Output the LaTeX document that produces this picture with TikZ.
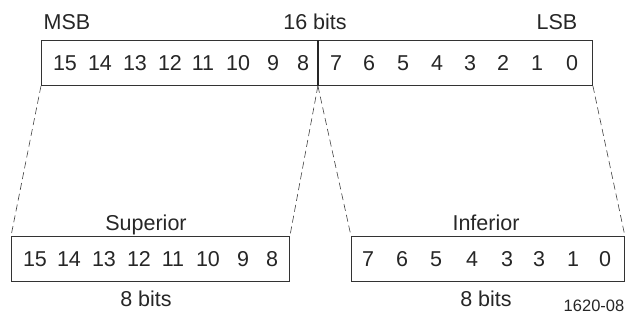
\documentclass[tikz,border=0pt]{standalone}
\usepackage{fontspec}
\setmainfont{Liberation Sans}
\begin{document}
\begin{tikzpicture}[x=1pt,y=-1pt,
  every node/.style={font=\fontsize{21.5}{24}\selectfont, text=black!85, inner sep=0pt},
  box/.style={draw=black!80, line width=0.9pt, minimum height=45pt, anchor=north west},
  dig/.style={anchor=base},
  lbl/.style={anchor=base},
  guide/.style={draw=black!75, line width=0.6pt, dash pattern=on 7pt off 4pt}]
\useasboundingbox (0,0) rectangle (626,324);
% top register
\node[box, minimum width=276pt] (topL) at (41,40) {};
\node[box, minimum width=275pt] (topR) at (317,40) {};
\draw[line width=2.4pt, draw=black!85] (topL.north east) -- (topL.south east);
% bottom registers
\node[box, minimum width=278pt] (sup) at (11,236) {};
\node[box, minimum width=273pt] (inf) at (351,236) {};
% labels
\node[lbl] (msb) at (67,29) {MSB};
\node[lbl] (bits16) at (315,29) {16 bits};
\node[lbl] (lsb) at (557,29) {LSB};
\node[lbl] (suplbl) at (146,230.5) {Superior};
\node[lbl] (inflbl) at (486,230.5) {Inferior};
\node[lbl] (sup8) at (146,306.5) {8 bits};
\node[lbl] (inf8) at (486,306.5) {8 bits};
\node[lbl, font=\fontsize{16.5}{18}\selectfont] (fig) at (594,311.5) {1620-08};
% top digits
\foreach \d/\x in {15/65,14/100,13/135,12/170,11/203,10/238,9/273,8/303,
                   7/336,6/369,5/403,4/437,3/470,2/503,1/537,0/572}
  \node[dig] (t\d) at (\x,70) {\d};
% bottom digits
\foreach \d/\x in {15/35,14/69,13/104,12/139,11/173,10/208,9/243,8/272}
  \node[dig] (s\d) at (\x,266.5) {\d};
\foreach \d/\x [count=\i] in {7/368,6/402,5/436,4/472,3/507,3/539,1/573,0/605}
  \node[dig] (i\i) at (\x,266.5) {\d};
% guide lines
\draw[guide] (topL.south west) -- (sup.north west);
\draw[guide] (topL.south east) -- (sup.north east);
\draw[guide] (topL.south east) -- (inf.north west);
\draw[guide] (topR.south east) -- (inf.north east);
\end{tikzpicture}
\end{document}
